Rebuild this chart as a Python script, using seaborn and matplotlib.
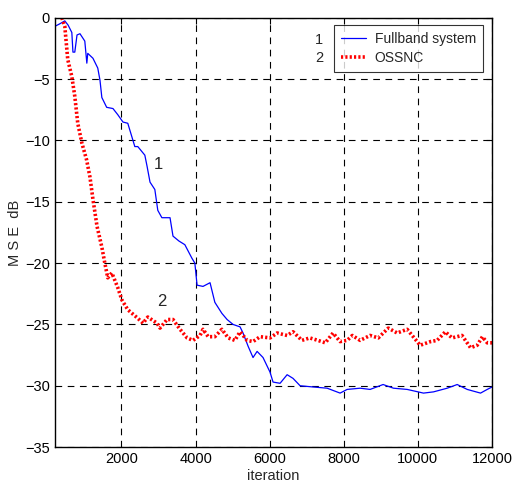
import numpy as np
import pandas as pd
import matplotlib
matplotlib.use("Agg")
import matplotlib.pyplot as plt
import seaborn as sns

# Fullband system (curve 1)
full_x = [200, 330, 470, 560, 660, 690, 740, 800, 880, 1010, 1065, 1090, 1230, 1360, 1420, 1470,
          1600, 1770, 1900, 2040, 2170, 2280, 2360, 2440, 2630, 2690, 2770, 2900, 2980, 3090,
          3310, 3390, 3550, 3710, 3900, 3980, 4040, 4200, 4390, 4520, 4710, 4850, 5010, 5200,
          5280, 5420, 5550, 5660, 5820, 6010, 6090, 6280, 6470, 6630, 6820, 7170, 7550, 7900,
          8090, 8440, 8710, 9060, 9340, 9710, 10150, 10420, 10790, 11060, 11330, 11690, 11870, 12000]
full_y = [-0.7, -0.5, -0.25, -0.6, -1.2, -2.8, -2.8, -1.4, -1.3, -1.9, -3.7, -2.9, -3.3, -4.1, -5.1, -6.5,
          -7.3, -7.4, -7.9, -8.5, -8.6, -9.7, -10.5, -10.5, -11.2, -12.1, -13.4, -14.0, -15.7, -16.3,
          -16.3, -17.8, -18.2, -18.5, -19.6, -20.0, -21.8, -21.9, -21.6, -23.2, -24.1, -24.6, -25.0, -25.2,
          -25.7, -26.8, -27.7, -27.2, -27.7, -28.9, -29.7, -29.8, -29.1, -29.4, -30.0, -30.1, -30.2, -30.6,
          -30.3, -30.2, -30.3, -29.9, -30.2, -30.3, -30.6, -30.5, -30.2, -29.9, -30.3, -30.6, -30.3, -30.1]

# OSSNC (curve 2)
oss_x = [390, 470, 550, 660, 740, 820, 930, 1060, 1150, 1230, 1340, 1470, 1550, 1630, 1740, 1900,
         2010, 2170, 2440, 2580, 2710, 2960, 3040, 3230, 3390, 3580, 3770, 3930, 4120, 4200, 4340,
         4520, 4710, 4880, 5060, 5200, 5390, 5550, 5740, 6010, 6200, 6470, 6630, 6870, 7080, 7300,
         7500, 7710, 7900, 8090, 8230, 8440, 8710, 8930, 9200, 9440, 9710, 9980, 10060, 10340, 10520,
         10740, 10920, 11190, 11420, 11600, 11740, 11870, 12000]
oss_y = [0.0, -0.7, -3.4, -4.8, -6.4, -8.6, -10.2, -11.6, -13.0, -14.8, -17.0, -18.7, -20.0, -21.2, -20.8, -22.0,
         -23.0, -23.8, -24.5, -24.9, -24.4, -24.9, -25.3, -24.6, -24.6, -25.4, -26.1, -26.3, -25.9, -25.4, -26.0,
         -26.0, -25.4, -26.1, -26.3, -25.6, -26.3, -26.4, -26.0, -26.1, -25.7, -25.9, -25.6, -26.3, -26.1, -26.3,
         -26.5, -25.7, -26.4, -26.3, -25.9, -26.3, -25.9, -26.1, -25.3, -25.7, -25.4, -26.4, -26.7, -26.4, -26.3,
         -25.6, -26.1, -25.9, -26.9, -26.7, -26.0, -26.5, -26.5]

x_ticks = [2000, 4000, 6000, 8000, 10000, 12000]
y_ticks = [-35, -30, -25, -20, -15, -10, -5, 0]

sns.set_style("white")
plt.rcParams['font.family'] = ['Liberation Sans', 'DejaVu Sans']
plt.rcParams['xtick.direction'] = 'in'
plt.rcParams['ytick.direction'] = 'in'

fig = plt.figure(figsize=(5.12, 4.94), dpi=100)
ax = fig.add_axes([0.107, 0.095, 0.854, 0.869])

full = pd.DataFrame({'iteration': full_x, 'mse': full_y})
oss = pd.DataFrame({'iteration': oss_x, 'mse': oss_y})

sns.lineplot(data=full, x='iteration', y='mse', ax=ax, color='#0000ff', lw=0.9,
             label='Fullband system')
sns.lineplot(data=oss, x='iteration', y='mse', ax=ax, color='#ff0000', lw=2.6,
             linestyle=(0, (0.6, 0.6)), label='OSSNC')

ax.set_xlim(200, 12000)
ax.set_ylim(-35, 0)
ax.set_xticks(x_ticks)
ax.set_yticks(y_ticks)
ax.tick_params(labelsize=10.5, length=4, width=0.8, colors='black', top=True, right=True)
ax.grid(True, color='black', linestyle=(0, (6, 5)), lw=0.8)
for s in ax.spines.values():
    s.set_color('black')
    s.set_linewidth(1.0)

ax.set_xlabel('iteration', fontsize=10.5, labelpad=2)
ax.set_ylabel('M S E  dB', fontsize=10.5, labelpad=2)

leg = ax.legend(loc='upper right', bbox_to_anchor=(0.979, 0.984), fontsize=10, frameon=True,
                fancybox=False, edgecolor='black', handlelength=1.85, handletextpad=0.6,
                borderpad=0.5, labelspacing=0.4, borderaxespad=0)
leg.get_frame().set_linewidth(0.8)

ax.text(323 / 512, 1 - 40 / 494, '1', transform=fig.transFigure, ha='right', va='center', fontsize=10.5)
ax.text(323 / 512, 1 - 58 / 494, '2', transform=fig.transFigure, ha='right', va='center', fontsize=10.5)

ax.text(3000, -12.0, '1', fontsize=12, ha='center', va='center')
ax.text(3090, -23.1, '2', fontsize=12, ha='center', va='center')

fig.savefig('out.png', dpi=100)
